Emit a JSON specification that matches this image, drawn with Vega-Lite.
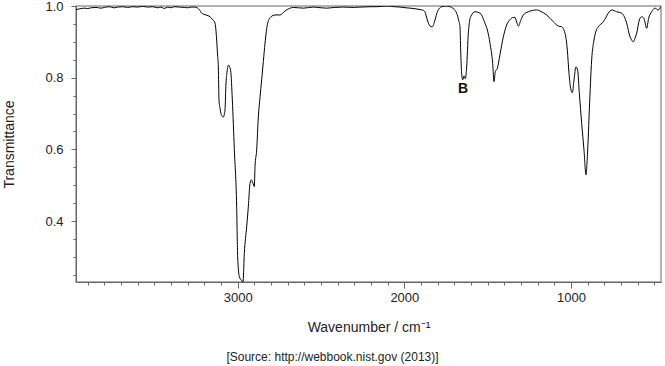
{
  "$schema": "https://vega.github.io/schema/vega-lite/v6.json",
  "width": 585,
  "height": 276,
  "autosize": {"type": "none"},
  "padding": {"left": 76, "top": 6, "right": 4, "bottom": 84},
  "background": "white",
  "config": {
    "font": "Liberation Sans",
    "view": {"stroke": "#999999", "strokeWidth": 1.5},
    "axis": {"grid": false, "domainColor": "#666666", "tickColor": "#666666", "labelColor": "#222222", "titleColor": "#222222", "labelFont": "Liberation Sans", "titleFont": "Liberation Sans", "titleFontWeight": "normal", "labelOverlap": false}
  },
  "title": {"text": "[Source: http://webbook.nist.gov (2013)]", "orient": "bottom", "anchor": "middle", "fontSize": 12, "fontWeight": "normal", "color": "#222222", "font": "Liberation Sans", "offset": 18, "dx": -36},
  "datasets": {
    "spectrum": [
      {"wn": 3970, "t": 0.990}, {"wn": 3950, "t": 0.992}, {"wn": 3920, "t": 0.994}, {"wn": 3900, "t": 0.993},
      {"wn": 3880, "t": 0.995}, {"wn": 3850, "t": 0.996}, {"wn": 3820, "t": 0.994}, {"wn": 3800, "t": 0.996},
      {"wn": 3770, "t": 0.998}, {"wn": 3740, "t": 0.995}, {"wn": 3720, "t": 0.997}, {"wn": 3690, "t": 0.998},
      {"wn": 3660, "t": 0.996}, {"wn": 3630, "t": 0.998}, {"wn": 3600, "t": 0.997}, {"wn": 3570, "t": 0.999},
      {"wn": 3540, "t": 0.997}, {"wn": 3510, "t": 0.998}, {"wn": 3480, "t": 0.995}, {"wn": 3460, "t": 0.997},
      {"wn": 3440, "t": 0.993}, {"wn": 3420, "t": 0.997}, {"wn": 3400, "t": 0.995}, {"wn": 3380, "t": 0.998},
      {"wn": 3350, "t": 0.997}, {"wn": 3320, "t": 0.996}, {"wn": 3300, "t": 0.995}, {"wn": 3280, "t": 0.997},
      {"wn": 3256, "t": 0.997}, {"wn": 3230, "t": 0.990}, {"wn": 3216, "t": 0.980}, {"wn": 3190, "t": 0.975},
      {"wn": 3166, "t": 0.970}, {"wn": 3150, "t": 0.962}, {"wn": 3136, "t": 0.952}, {"wn": 3130, "t": 0.930},
      {"wn": 3126, "t": 0.905}, {"wn": 3120, "t": 0.860}, {"wn": 3116, "t": 0.830}, {"wn": 3112, "t": 0.738},
      {"wn": 3106, "t": 0.715}, {"wn": 3100, "t": 0.700}, {"wn": 3092, "t": 0.692}, {"wn": 3086, "t": 0.690},
      {"wn": 3080, "t": 0.698}, {"wn": 3076, "t": 0.710}, {"wn": 3070, "t": 0.785}, {"wn": 3064, "t": 0.815},
      {"wn": 3056, "t": 0.835}, {"wn": 3048, "t": 0.830}, {"wn": 3042, "t": 0.820}, {"wn": 3032, "t": 0.738},
      {"wn": 3020, "t": 0.600}, {"wn": 3006, "t": 0.440}, {"wn": 3000, "t": 0.300}, {"wn": 2990, "t": 0.245},
      {"wn": 2978, "t": 0.235}, {"wn": 2968, "t": 0.230}, {"wn": 2960, "t": 0.310}, {"wn": 2946, "t": 0.384},
      {"wn": 2936, "t": 0.440}, {"wn": 2926, "t": 0.505}, {"wn": 2918, "t": 0.515}, {"wn": 2912, "t": 0.510},
      {"wn": 2904, "t": 0.500}, {"wn": 2900, "t": 0.496}, {"wn": 2896, "t": 0.552}, {"wn": 2886, "t": 0.598},
      {"wn": 2876, "t": 0.690}, {"wn": 2866, "t": 0.745}, {"wn": 2856, "t": 0.794}, {"wn": 2846, "t": 0.845},
      {"wn": 2836, "t": 0.896}, {"wn": 2820, "t": 0.952}, {"wn": 2800, "t": 0.970}, {"wn": 2776, "t": 0.975},
      {"wn": 2746, "t": 0.975}, {"wn": 2716, "t": 0.986}, {"wn": 2690, "t": 0.993}, {"wn": 2666, "t": 0.996},
      {"wn": 2606, "t": 0.994}, {"wn": 2546, "t": 0.997}, {"wn": 2500, "t": 0.995}, {"wn": 2466, "t": 0.994},
      {"wn": 2420, "t": 0.996}, {"wn": 2366, "t": 0.997}, {"wn": 2300, "t": 0.996}, {"wn": 2266, "t": 0.997},
      {"wn": 2200, "t": 0.998}, {"wn": 2166, "t": 0.998}, {"wn": 2106, "t": 1.000}, {"wn": 2060, "t": 0.998},
      {"wn": 2026, "t": 0.997}, {"wn": 1990, "t": 0.995}, {"wn": 1966, "t": 0.994}, {"wn": 1930, "t": 0.992},
      {"wn": 1906, "t": 0.990}, {"wn": 1886, "t": 0.988}, {"wn": 1876, "t": 0.983}, {"wn": 1862, "t": 0.961},
      {"wn": 1846, "t": 0.944}, {"wn": 1832, "t": 0.942}, {"wn": 1816, "t": 0.961}, {"wn": 1802, "t": 0.984},
      {"wn": 1776, "t": 0.998}, {"wn": 1746, "t": 1.000}, {"wn": 1716, "t": 0.996}, {"wn": 1700, "t": 0.990},
      {"wn": 1686, "t": 0.980}, {"wn": 1674, "t": 0.960}, {"wn": 1666, "t": 0.942}, {"wn": 1662, "t": 0.877},
      {"wn": 1656, "t": 0.812}, {"wn": 1650, "t": 0.794}, {"wn": 1642, "t": 0.805}, {"wn": 1634, "t": 0.797},
      {"wn": 1626, "t": 0.830}, {"wn": 1616, "t": 0.924}, {"wn": 1602, "t": 0.970}, {"wn": 1576, "t": 0.984},
      {"wn": 1546, "t": 0.980}, {"wn": 1516, "t": 0.952}, {"wn": 1500, "t": 0.930}, {"wn": 1486, "t": 0.896},
      {"wn": 1470, "t": 0.840}, {"wn": 1462, "t": 0.789}, {"wn": 1454, "t": 0.817}, {"wn": 1442, "t": 0.826},
      {"wn": 1426, "t": 0.865}, {"wn": 1406, "t": 0.914}, {"wn": 1386, "t": 0.947}, {"wn": 1366, "t": 0.962},
      {"wn": 1346, "t": 0.968}, {"wn": 1336, "t": 0.968}, {"wn": 1326, "t": 0.955}, {"wn": 1316, "t": 0.944},
      {"wn": 1300, "t": 0.962}, {"wn": 1286, "t": 0.975}, {"wn": 1256, "t": 0.984}, {"wn": 1206, "t": 0.989},
      {"wn": 1186, "t": 0.986}, {"wn": 1146, "t": 0.975}, {"wn": 1106, "t": 0.956}, {"wn": 1076, "t": 0.944},
      {"wn": 1056, "t": 0.942}, {"wn": 1036, "t": 0.924}, {"wn": 1022, "t": 0.877}, {"wn": 1012, "t": 0.812},
      {"wn": 1002, "t": 0.770}, {"wn": 992, "t": 0.758}, {"wn": 982, "t": 0.794}, {"wn": 970, "t": 0.830},
      {"wn": 960, "t": 0.820}, {"wn": 950, "t": 0.756}, {"wn": 936, "t": 0.673}, {"wn": 922, "t": 0.598},
      {"wn": 910, "t": 0.529}, {"wn": 900, "t": 0.598}, {"wn": 890, "t": 0.710}, {"wn": 876, "t": 0.850},
      {"wn": 862, "t": 0.905}, {"wn": 850, "t": 0.930}, {"wn": 836, "t": 0.942}, {"wn": 806, "t": 0.956},
      {"wn": 776, "t": 0.980}, {"wn": 756, "t": 0.989}, {"wn": 726, "t": 0.984}, {"wn": 696, "t": 0.980},
      {"wn": 680, "t": 0.970}, {"wn": 666, "t": 0.952}, {"wn": 646, "t": 0.914}, {"wn": 636, "t": 0.905},
      {"wn": 626, "t": 0.900}, {"wn": 616, "t": 0.910}, {"wn": 606, "t": 0.924}, {"wn": 590, "t": 0.961},
      {"wn": 576, "t": 0.970}, {"wn": 562, "t": 0.965}, {"wn": 546, "t": 0.938}, {"wn": 534, "t": 0.966},
      {"wn": 516, "t": 0.984}, {"wn": 496, "t": 0.994}, {"wn": 476, "t": 0.989}, {"wn": 462, "t": 0.998}
    ],
    "labels": [{"wn": 1648, "t": 0.768, "label": "B"}]
  },
  "layer": [
    {
      "data": {"name": "spectrum"},
      "mark": {"type": "line", "color": "#000000", "strokeWidth": 1, "interpolate": "monotone", "clip": true},
      "encoding": {
        "x": {
          "field": "wn", "type": "quantitative",
          "scale": {"domain": [460, 3970], "reverse": true, "nice": false, "zero": false},
          "axis": {
            "title": "Wavenumber / cm⁻¹",
            "titleFontSize": 14,
            "titlePadding": 16,
            "tickCount": 60,
            "values": [3900, 3800, 3700, 3600, 3500, 3400, 3300, 3200, 3100, 3000, 2900, 2800, 2700, 2600, 2500, 2400, 2300, 2200, 2100, 2000, 1900, 1800, 1700, 1600, 1500, 1400, 1300, 1200, 1100, 1000, 900, 800, 700, 600, 500],
            "labelExpr": "datum.value % 1000 === 0 ? format(datum.value, 'd') : ''",
            "tickSize": {"condition": {"test": "datum.value % 1000 === 0", "value": 6}, "value": 3},
            "labelFontSize": 13,
            "labelPadding": 3,
            "labelFlush": false
          }
        },
        "y": {
          "field": "t", "type": "quantitative",
          "scale": {"domain": [0.23, 1.0], "nice": false, "zero": false},
          "axis": {
            "title": "Transmittance",
            "titleFontSize": 14,
            "titlePadding": 28,
            "tickCount": 40,
            "values": [0.25, 0.3, 0.35, 0.4, 0.45, 0.5, 0.55, 0.6, 0.65, 0.7, 0.75, 0.8, 0.85, 0.9, 0.95, 1.0],
            "labelExpr": "abs(datum.value * 5 - round(datum.value * 5)) < 0.001 ? format(datum.value, '.1f') : ''",
            "tickSize": {"condition": {"test": "abs(datum.value * 5 - round(datum.value * 5)) < 0.001", "value": 5}, "value": 3},
            "labelFontSize": 13,
            "labelPadding": 8,
            "labelFlush": false
          }
        }
      }
    },
    {
      "data": {"name": "labels"},
      "mark": {"type": "text", "fontSize": 14, "fontWeight": "bold", "font": "Liberation Sans", "align": "center", "baseline": "middle", "color": "#111111"},
      "encoding": {
        "x": {"field": "wn", "type": "quantitative"},
        "y": {"field": "t", "type": "quantitative"},
        "text": {"field": "label"}
      }
    }
  ]
}
